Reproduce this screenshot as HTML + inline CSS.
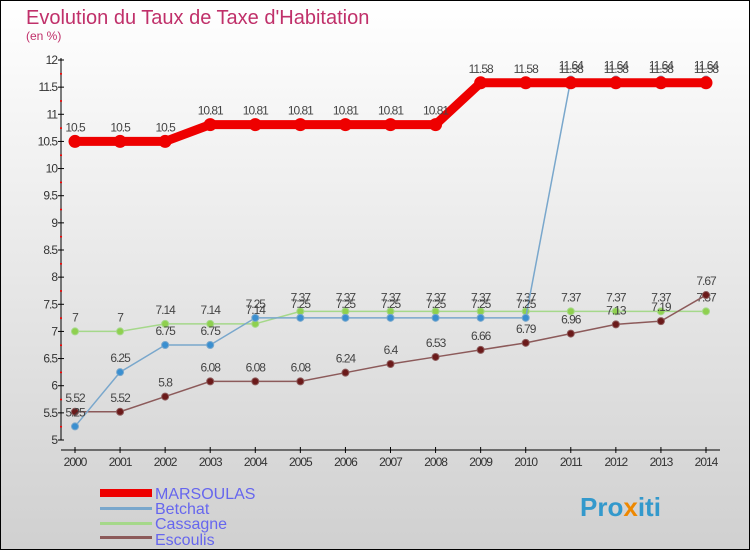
<!DOCTYPE html>
<html><head><meta charset="utf-8"><style>
body{margin:0}
#c{width:750px;height:550px;position:relative;overflow:hidden;font-family:"Liberation Sans",sans-serif}
</style></head><body>
<div id="c">
<svg id="s" width="750" height="550" xmlns="http://www.w3.org/2000/svg">
<defs><linearGradient id="bg" x1="0" y1="0" x2="0" y2="1"><stop offset="0" stop-color="#ffffff"/><stop offset="1" stop-color="#d0d0d0"/></linearGradient></defs>
<rect x="0.5" y="0.5" width="749" height="549" fill="url(#bg)" stroke="#000"/>
<text x="26" y="24" font-size="20" fill="#c0306a">Evolution du Taux de Taxe d'Habitation</text>
<text x="26" y="40" font-size="12" fill="#c0306a">(en %)</text>
<g id="axes"></g><g id="series"></g>
<g>
<rect x="100" y="489" width="52" height="8" fill="#ee0000"/>
<text x="155" y="499" font-size="16" fill="#6666ee">MARSOULAS</text>
<rect x="100" y="507" width="52" height="3" fill="#79a7cc"/>
<text x="155" y="514" font-size="16" fill="#6666ee">Betchat</text>
<rect x="100" y="522" width="52" height="3" fill="#a5d88a"/>
<text x="155" y="529" font-size="16" fill="#6666ee">Cassagne</text>
<rect x="100" y="536" width="52" height="3" fill="#8c5a5a"/>
<text x="155" y="545" font-size="16" fill="#6666ee">Escoulis</text>
</g>
<text x="580" y="516" font-size="26" font-weight="bold" fill="#3399cc">Pro<tspan fill="#ee8800">x</tspan>iti</text>
</svg></div>
<script>
const years=[2000,2001,2002,2003,2004,2005,2006,2007,2008,2009,2010,2011,2012,2013,2014];
const marsoulas=[10.5,10.5,10.5,10.81,10.81,10.81,10.81,10.81,10.81,11.58,11.58,11.58,11.58,11.58,11.58];
const betchat=[5.25,6.25,6.75,6.75,7.25,7.25,7.25,7.25,7.25,7.25,7.25,11.64,11.64,11.64,11.64];
const cassagne=[7,7,7.14,7.14,7.14,7.37,7.37,7.37,7.37,7.37,7.37,7.37,7.37,7.37,7.37];
const escoulis=[5.52,5.52,5.8,6.08,6.08,6.08,6.24,6.4,6.53,6.66,6.79,6.96,7.13,7.19,7.67];
const yTicks=[5,5.5,6,6.5,7,7.5,8,8.5,9,9.5,10,10.5,11,11.5,12];
const NS='http://www.w3.org/2000/svg';
const X=i=>75+i*(706-75)/14, Y=v=>440-(v-5)*(380/7);
function mk(t,a,p){const e=document.createElementNS(NS,t);for(const k in a)e.setAttribute(k,a[k]);p.appendChild(e);return e;}
const ax=document.getElementById('axes'), sg=document.getElementById('series');
let l=mk('line',{x1:61,y1:58,x2:61,y2:440,stroke:'#000'},ax);


l=mk('line',{x1:61,y1:450,x2:720,y2:450,stroke:'#000'},ax);


yTicks.forEach(v=>{mk('line',{x1:58,y1:Y(v),x2:64,y2:Y(v),stroke:'#000'},ax);
const t=mk('text',{x:57,y:Y(v)+4,'font-size':12,'text-anchor':'end',fill:'#333','letter-spacing':'-1'},ax);t.textContent=String(v);


if(v<12)mk('rect',{x:60,y:Y(v+0.25)-0.5,width:2,height:1.5,fill:'#f00'},ax);});
years.forEach((y,i)=>{mk('line',{x1:X(i),y1:447,x2:X(i),y2:453,stroke:'#000'},ax);
const t=mk('text',{x:X(i),y:466,'font-size':12,'text-anchor':'middle',fill:'#333','letter-spacing':'-1'},ax);t.textContent=y;

});
function series(name,d,col,w,r,fill){
const g=mk('g',{},sg);


mk('polyline',{points:d.map((v,i)=>X(i)+','+Y(v)).join(' '),fill:'none',stroke:col,'stroke-width':w,'stroke-linejoin':'round'},g);
d.forEach((v,i)=>{const c=mk('circle',{cx:X(i),cy:Y(v),r:r,fill:fill,stroke:col,'stroke-width':1},g);


const t=mk('text',{x:X(i),y:Y(v)-10,'font-size':12,'text-anchor':'middle',fill:'#444','letter-spacing':'-1'},g);t.textContent=String(v);

});}
series('cassagne',cassagne,'#a5d88a',1.5,3.5,'#8fd04f');
series('escoulis',escoulis,'#8c5a5a',1.5,3.5,'#6b1a1a');
series('betchat',betchat,'#79a7cc',1.5,3.5,'#3a8fd0');
series('marsoulas',marsoulas,'#ee0000',9,6,'#ee0000');
</script></body></html>
